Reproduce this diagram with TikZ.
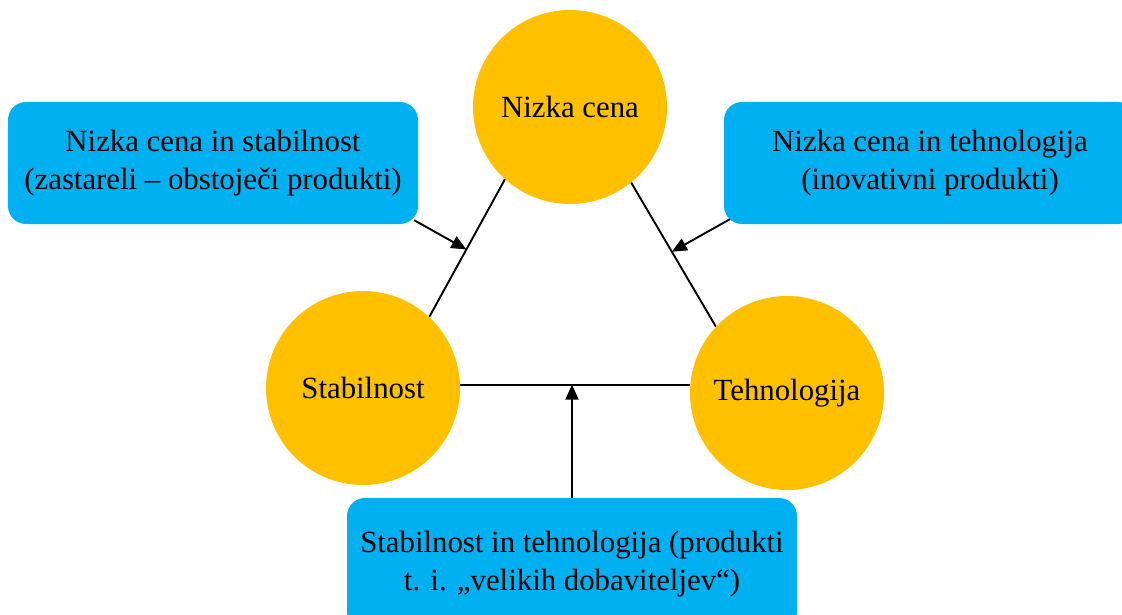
\documentclass[tikz,border=0pt]{standalone}
\usepackage{fontspec}
\setmainfont{Liberation Serif}
\usetikzlibrary{arrows.meta,calc,backgrounds}
\definecolor{boxblue}{HTML}{00B0F0}
\definecolor{topicgold}{HTML}{FFC000}
\begin{document}
\begin{tikzpicture}[x=1pt,y=-1pt,
  font=\fontsize{30.8}{38}\selectfont,
  topic/.style={circle,fill=topicgold,minimum size=194pt,inner sep=0pt},
  pairbox/.style={rectangle,rounded corners=18pt,fill=boxblue,align=center,inner sep=0pt},
  edge/.style={line width=1.9pt},
  pointer/.style={line width=1.9pt,-{Triangle[length=15pt,width=13pt]}}]
\clip (0,0) rectangle (1122,615);
\useasboundingbox (0,0) rectangle (1122,615);

% the three qualities
\node[topic] (nc) at (570,107) {Nizka cena};
\node[topic] (st) at (363,388) {Stabilnost};
\node[topic] (th) at (787,393) {Tehnologija};

% the paired combinations
\node[pairbox,minimum width=410pt,minimum height=122pt] (lb) at (213,163)
  {Nizka cena in stabilnost\\(zastareli – obstoječi produkti)};
\node[pairbox,minimum width=412pt,minimum height=122pt] (rb) at (930,163)
  {Nizka cena in tehnologija\\(inovativni produkti)};
\node[pairbox,minimum width=450pt,minimum height=132pt] (bb) at (572,564)
  {Stabilnost in tehnologija (produkti\\t. i. „velikih dobaviteljev“)};

\begin{scope}[on background layer]
  % triangle sides
  \draw[edge] (nc.228) -- (st.47)  coordinate[pos=0.51] (lside);
  \draw[edge] (nc.309) -- (th.137) coordinate[pos=0.48] (rside);
  \draw[edge] (st.2)   -- (st.2 -| th.west);
  % pointers from the boxes to the sides
  \draw[pointer] ([shift={(-4,-4)}]lb.south east) -- (lside);
  \draw[pointer] ([shift={(8,-6)}]rb.south west) -- (rside);
  \draw[pointer] (bb.north) -- (bb.north |- st.2);
\end{scope}
\end{tikzpicture}
\end{document}
